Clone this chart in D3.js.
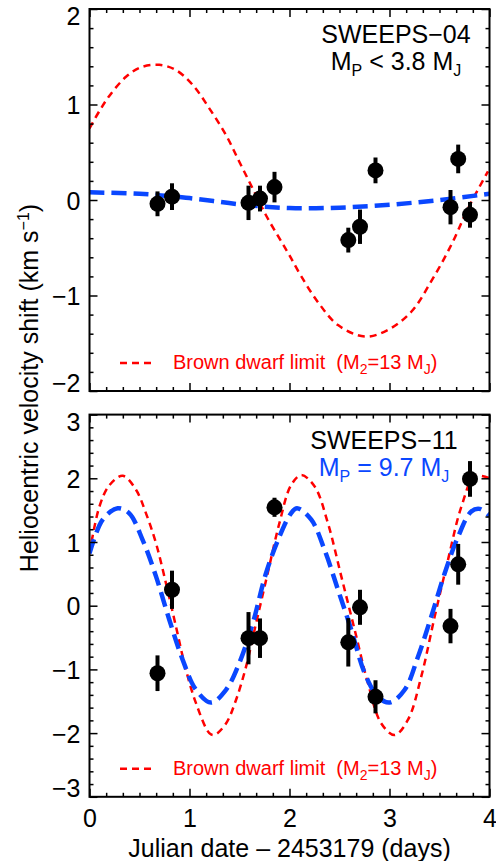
<!DOCTYPE html>
<html lang="en">
<head>
<meta charset="UTF-8">
<title>SWEEPS radial velocities</title>
<style>
  body { margin: 0; background: #fff; }
  svg { display: block; font-family: "Liberation Sans", Arial, Helvetica, sans-serif; }
  .frame { fill: none; stroke: #000; stroke-width: 2px; }
  .tick line { stroke: #000; stroke-width: 1.5px; }
  .tick text { font-size: 25px; fill: #000; }
  .err { stroke: #000; stroke-width: 4px; }
  .dot { fill: #000; }
  .bd { fill: none; stroke: #ff0000; stroke-width: 2.5px; stroke-dasharray: 7 5; }
  .fit { fill: none; stroke: #0a47ff; stroke-width: 4.5px; stroke-dasharray: 15 7; }
</style>
</head>
<body>
<script src="https://cdnjs.cloudflare.com/ajax/libs/d3/7.8.5/d3.min.js"></script>
<script>

// observation epochs (days after JD 2453179)
var days = [0.68, 0.825, 1.59, 1.705, 1.85, 2.588, 2.705, 2.86, 3.61, 3.687, 3.805];

// SWEEPS-04 velocities and errors (km/s)
var rv04  = [-0.04, 0.035, -0.03, 0.015, 0.135, -0.42, -0.28, 0.31, -0.075, 0.43, -0.155];
var err04 = [0.13, 0.14, 0.18, 0.135, 0.16, 0.13, 0.18, 0.135, 0.18, 0.15, 0.135];

// SWEEPS-11 velocities and errors (km/s)
var rv11  = [-1.06, 0.25, -0.51, -0.51, 1.545, -0.575, -0.025, -1.43, -0.32, 0.65, 1.99];
var err11 = [0.28, 0.30, 0.41, 0.31, 0.15, 0.38, 0.275, 0.26, 0.27, 0.32, 0.28];

// model curves, [day, km/s]
var fit04 = [[0, 0.08], [0.5, 0.065], [1, 0.02], [1.5, -0.045], [2, -0.085], [2.5, -0.08],
             [3, -0.05], [3.5, 0], [4, 0.065]];
var bd04 = [[0, 0.75], [0.098, 0.93], [0.198, 1.09], [0.365, 1.29], [0.515, 1.39], [0.698, 1.415],
            [0.865, 1.36], [1.032, 1.205], [1.198, 0.96], [1.365, 0.68], [1.498, 0.40], [1.632, 0.12],
            [1.765, -0.16], [1.898, -0.40], [2.0, -0.58], [2.118, -0.80], [2.285, -1.07], [2.485, -1.31],
            [2.752, -1.43], [2.985, -1.36], [3.218, -1.17], [3.418, -0.85], [3.618, -0.47], [3.785, -0.09],
            [3.985, 0.30]];
var fit11 = [[0, 0.82], [0.132, 1.35], [0.282, 1.53], [0.398, 1.45], [0.532, 1.03], [0.665, 0.46],
             [0.798, -0.22], [0.932, -0.85], [1.065, -1.32], [1.215, -1.52], [1.365, -1.32], [1.498, -0.90],
             [1.632, -0.28], [1.765, 0.51], [1.898, 1.08], [2.015, 1.45], [2.075, 1.53], [2.218, 1.35],
             [2.352, 0.87], [2.485, 0.25], [2.618, -0.38], [2.752, -1.06], [2.885, -1.43], [3.002, -1.52],
             [3.152, -1.32], [3.285, -0.80], [3.418, -0.17], [3.552, 0.51], [3.685, 1.08], [3.818, 1.48],
             [3.902, 1.52], [4.0, 1.41]];
var bd11 = [[0, 0.82], [0.098, 1.55], [0.198, 1.89], [0.332, 2.04], [0.465, 1.82], [0.565, 1.45],
            [0.665, 0.98], [0.765, 0.35], [0.865, -0.33], [0.965, -1.01], [1.065, -1.53], [1.198, -2.0],
            [1.248, -2.03], [1.365, -1.85], [1.465, -1.48], [1.565, -0.96], [1.665, -0.28], [1.782, 0.51],
            [1.898, 1.29], [2.015, 1.89], [2.118, 2.05], [2.252, 1.87], [2.385, 1.29], [2.518, 0.46],
            [2.652, -0.38], [2.785, -1.22], [2.918, -1.85], [3.052, -2.03], [3.185, -1.79], [3.318, -1.11],
            [3.452, -0.17], [3.585, 0.72], [3.718, 1.55], [3.852, 2.03], [4.0, 2.0]];

var xTicks = [0, 1, 2, 3, 4];
var yTicks04 = [-2, -1, 0, 1, 2];
var yTicks11 = [-3, -2, -1, 0, 1, 2, 3];

var width = 496, height = 861;
var left = 89.5, right = 489.5;

var svg = d3.select("body").append("svg")
    .attr("width", width)
    .attr("height", height);

var x = d3.scaleLinear().domain([0, 4]).range([left, right]);
var xMinor = d3.range(0, 24).map(function(i) { return i / 6; }).filter(function(d) { return d % 1 !== 0; });

function fmt(d) { return d < 0 ? "\u2212" + Math.abs(d) : String(d); }

function panel(opt) {
    var y = d3.scaleLinear().domain(opt.domain).range([opt.bottom, opt.top]);
    var g = svg.append("g");
    var yMinor = d3.range(opt.domain[0] * 5, opt.domain[1] * 5 + 1)
        .map(function(i) { return i / 5; })
        .filter(function(d) { return Math.abs(d % 1) > 1e-6; });

    // clip for curves
    var clipId = "clip" + opt.id;
    svg.append("clipPath").attr("id", clipId)
        .append("rect")
        .attr("x", left).attr("y", opt.top)
        .attr("width", right - left).attr("height", opt.bottom - opt.top);

    var ln = d3.line()
        .x(function(d) { return x(d[0]); })
        .y(function(d) { return y(d[1]); })
        .curve(d3.curveCatmullRom.alpha(0.5));

    var curves = g.append("g").attr("clip-path", "url(#" + clipId + ")");
    curves.append("path").datum(opt.bd).attr("class", "bd").attr("d", ln);
    curves.append("path").datum(opt.fit).attr("class", "fit").attr("d", ln);

    // y axes
    var yl = g.append("g").attr("transform", "translate(" + left + ",0)")
        .call(d3.axisLeft(y).tickValues(opt.yTicks).tickSize(-8).tickPadding(9).tickFormat(fmt));
    yl.selectAll(".tick text")
        .attr("dy", function(d) {
            if (d === opt.domain[1]) return "0.62em";
            if (d === opt.domain[0]) return "0.0em";
            return "0.36em";
        });
    g.append("g").attr("transform", "translate(" + left + ",0)")
        .call(d3.axisLeft(y).tickValues(yMinor).tickSize(-4).tickFormat(""));
    g.append("g").attr("transform", "translate(" + right + ",0)")
        .call(d3.axisRight(y).tickValues(opt.yTicks).tickSize(-8).tickFormat(""));
    g.append("g").attr("transform", "translate(" + right + ",0)")
        .call(d3.axisRight(y).tickValues(yMinor).tickSize(-4).tickFormat(""));

    // x axes
    g.append("g").attr("transform", "translate(0," + opt.bottom + ")")
        .call(d3.axisBottom(x).tickValues(xTicks).tickSize(-8).tickPadding(12)
            .tickFormat(opt.xLabels ? d3.format("d") : ""));
    g.append("g").attr("transform", "translate(0," + opt.bottom + ")")
        .call(d3.axisBottom(x).tickValues(xMinor).tickSize(-4).tickFormat(""));
    g.append("g").attr("transform", "translate(0," + opt.top + ")")
        .call(d3.axisTop(x).tickValues(xTicks).tickSize(-8).tickFormat(""));
    g.append("g").attr("transform", "translate(0," + opt.top + ")")
        .call(d3.axisTop(x).tickValues(xMinor).tickSize(-4).tickFormat(""));
    g.selectAll(".domain").remove();

    // data
    var pts = days.map(function(d, i) { return { t: d, v: opt.rv[i], e: opt.err[i] }; });
    g.selectAll(".err").data(pts).enter().append("line")
        .attr("class", "err")
        .attr("x1", function(d) { return x(d.t); })
        .attr("x2", function(d) { return x(d.t); })
        .attr("y1", function(d) { return y(d.v - d.e); })
        .attr("y2", function(d) { return y(d.v + d.e); });
    g.selectAll(".dot").data(pts).enter().append("circle")
        .attr("class", "dot")
        .attr("cx", function(d) { return x(d.t); })
        .attr("cy", function(d) { return y(d.v); })
        .attr("r", 8);

    g.append("rect").attr("class", "frame")
        .attr("x", left).attr("y", opt.top)
        .attr("width", right - left).attr("height", opt.bottom - opt.top);

    // labels
    g.append("text").attr("x", opt.labelX).attr("y", opt.top + 34)
        .attr("text-anchor", "middle").style("font-size", "25px")
        .text(opt.name);
    var m = g.append("text").attr("x", opt.labelX).attr("y", opt.top + 61)
        .attr("text-anchor", "middle").style("font-size", "25px")
        .attr("fill", opt.massColor);
    m.append("tspan").text("M");
    m.append("tspan").attr("dy", 6).style("font-size", "16px").text("P");
    m.append("tspan").attr("dy", -6).text(opt.mass + " M");
    m.append("tspan").attr("dy", 6).style("font-size", "16px").text("J");

    // legend
    var ly = opt.bottom - 28;
    g.append("line").attr("class", "bd")
        .attr("x1", 120).attr("x2", 156).attr("y1", ly).attr("y2", ly);
    var lt = g.append("text").attr("x", 173).attr("y", ly + 6)
        .attr("fill", "#ff0000").style("font-size", "20px").attr("xml:space", "preserve");
    lt.append("tspan").text("Brown dwarf limit  (M");
    lt.append("tspan").attr("dy", 5).style("font-size", "14px").text("2");
    lt.append("tspan").attr("dy", -5).text("=13 M");
    lt.append("tspan").attr("dy", 5).style("font-size", "14px").text("J");
    lt.append("tspan").attr("dy", -5).text(")");
}

panel({ id: "a", name: "SWEEPS\u221204", domain: [-2, 2], top: 9, bottom: 391, yTicks: yTicks04,
        rv: rv04, err: err04, fit: fit04, bd: bd04, xLabels: false,
        labelX: 396, mass: " < 3.8", massColor: "#000" });
panel({ id: "b", name: "SWEEPS\u221211", domain: [-3, 3], top: 414.6, bottom: 796.8, yTicks: yTicks11,
        rv: rv11, err: err11, fit: fit11, bd: bd11, xLabels: true,
        labelX: 384, mass: " = 9.7", massColor: "#0a47ff" });

// axis titles
svg.append("text")
    .attr("x", (left + right) / 2).attr("y", 857)
    .attr("text-anchor", "middle").style("font-size", "25px")
    .text("Julian date \u2013 2453179 (days)");

var yt = svg.append("text")
    .attr("transform", "translate(38,388) rotate(-90)")
    .attr("text-anchor", "middle").style("font-size", "25px");
yt.append("tspan").text("Heliocentric velocity shift (km s");
yt.append("tspan").attr("dy", -9).style("font-size", "16px").text("\u22121");
yt.append("tspan").attr("dy", 9).text(")");

</script>
</body>
</html>
